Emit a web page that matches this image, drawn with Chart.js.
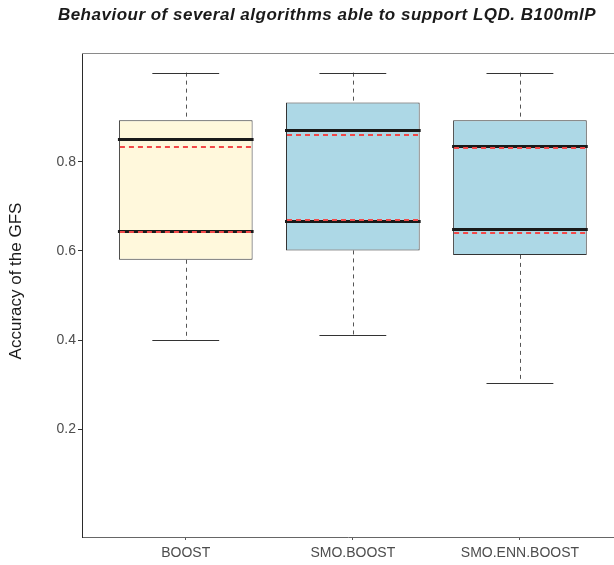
<!DOCTYPE html>
<html>
<head>
<meta charset="utf-8">
<script src="https://cdn.jsdelivr.net/npm/chart.js@4.4.1/dist/chart.umd.min.js"></script>
<style>
  body { margin: 0; background: #fff; }
  canvas { display: block; }
</style>
</head>
<body>
<canvas id="box" width="614" height="565"></canvas>
<script>
// values
const groups = ['BOOST', 'SMO.BOOST', 'SMO.ENN.BOOST'];
const whiskerLow = [0.400, 0.411, 0.304];
const boxLow = [0.580, 0.601, 0.591];
const solidLow = [0.645, 0.668, 0.648];
const dashLow = [0.642, 0.669, 0.641];
const dashHigh = [0.833, 0.861, 0.831];
const solidHigh = [0.852, 0.871, 0.836];
const boxHigh = [0.893, 0.933, 0.893];
const whiskerHigh = [1.0, 1.0, 1.0];
const yTicks = [0.2, 0.4, 0.6, 0.8];

const FONT = '"Liberation Sans", Arial, Helvetica, sans-serif';
const boxFill = ['#FFF8DC', '#ADD8E6', '#ADD8E6'];

const crisp = v => Math.round(v) + 0.5;

// whiskers, caps, the thick lines and the red dashed ones
const boxExtras = {
    id: 'boxExtras',
    afterDatasetsDraw(chart) {
        const {ctx, chartArea, scales: {x, y}} = chart;
        const hline = (x0, x1, v, color, width, dash) => {
            const py = width === 1 ? crisp(y.getPixelForValue(v)) : Math.round(y.getPixelForValue(v)) + (width === 3 ? 0.5 : 0);
            ctx.strokeStyle = color;
            ctx.lineWidth = width;
            ctx.setLineDash(dash);
            ctx.beginPath();
            ctx.moveTo(x0, py);
            ctx.lineTo(x1, py);
            ctx.stroke();
        };
        ctx.save();
        // top frame line
        hline(chartArea.left, chartArea.right, y.max, '#8a8a8a', 1, []);
        groups.forEach((g, i) => {
            const cx = x.getPixelForValue(i + 1);
            const capW = x.getPixelForValue(i + 1.2) - cx;
            const boxW = x.getPixelForValue(i + 1.4) - cx;
            const px = crisp(cx);

            ctx.strokeStyle = '#555';
            ctx.lineWidth = 1;
            ctx.setLineDash([4, 4]);
            ctx.beginPath();
            ctx.moveTo(px, y.getPixelForValue(whiskerHigh[i]));
            ctx.lineTo(px, y.getPixelForValue(boxHigh[i]));
            ctx.moveTo(px, y.getPixelForValue(boxLow[i]));
            ctx.lineTo(px, y.getPixelForValue(whiskerLow[i]));
            ctx.stroke();

            hline(cx - capW, cx + capW, whiskerHigh[i], '#333', 1, []);
            hline(cx - capW, cx + capW, whiskerLow[i], '#333', 1, []);

            hline(cx - boxW - 1, cx + boxW + 1, solidHigh[i], '#1a1a1a', 3, []);
            hline(cx - boxW - 1, cx + boxW + 1, solidLow[i], '#1a1a1a', 3, []);

            hline(cx - boxW + 1, cx + boxW - 1, dashHigh[i], '#f24848', 2, [5, 4]);
            hline(cx - boxW + 1, cx + boxW - 1, dashLow[i], '#f24848', 2, [5, 4]);
        });
        ctx.restore();
    }
};

// plot title and y axis title
const labels = {
    id: 'labels',
    afterDraw(chart) {
        const ctx = chart.ctx;
        ctx.save();
        ctx.fillStyle = '#1a1a1a';
        ctx.textAlign = 'center';
        ctx.textBaseline = 'alphabetic';
        ctx.font = 'italic bold 17px ' + FONT;
        ctx.letterSpacing = '0.5px';
        ctx.fillText('Behaviour of several algorithms able to support LQD. B100mlP', 327, 20);
        ctx.letterSpacing = '0px';
        ctx.translate(21, 281);
        ctx.rotate(-Math.PI / 2);
        ctx.font = '17px ' + FONT;
        ctx.fillText('Accuracy of the GFS', 0, 0);
        ctx.restore();
    }
};

new Chart(document.getElementById('box'), {
    type: 'bar',
    data: {
        datasets: [{
            data: groups.map((g, i) => ({x: i + 1, y: [boxLow[i], boxHigh[i]]})),
            backgroundColor: boxFill,
            borderColor: '#333',
            borderWidth: 1,
            borderSkipped: false,
            barPercentage: 0.8,
            categoryPercentage: 1
        }]
    },
    options: {
        responsive: false,
        animation: false,
        layout: {padding: {top: 53, left: 0, right: 0, bottom: 0}},
        plugins: {
            legend: {display: false},
            tooltip: {enabled: false}
        },
        scales: {
            x: {
                type: 'linear',
                min: 0.379,
                max: 3.563,
                offset: false,
                afterBuildTicks: s => { s.ticks = groups.map((g, i) => ({value: i + 1})); },
                afterFit: s => { s.height = 28; },
                ticks: {
                    callback: v => groups[v - 1],
                    font: {family: FONT, size: 14},
                    color: '#4d4d4d',
                    padding: 5,
                    maxRotation: 0,
                    autoSkip: false
                },
                grid: {offset: false, drawOnChartArea: false, tickLength: 3, color: '#555'},
                border: {color: '#666', width: 1}
            },
            y: {
                min: -0.042,
                max: 1.044,
                afterBuildTicks: s => { s.ticks = yTicks.map(v => ({value: v})); },
                afterFit: s => { s.width = 82; },
                ticks: {
                    callback: v => v.toFixed(1),
                    font: {family: FONT, size: 14},
                    color: '#4d4d4d',
                    padding: 2
                },
                grid: {drawOnChartArea: false, tickLength: 4, color: '#333'},
                border: {color: '#2b2b2b', width: 1}
            }
        }
    },
    plugins: [boxExtras, labels]
});
</script>
</body>
</html>
